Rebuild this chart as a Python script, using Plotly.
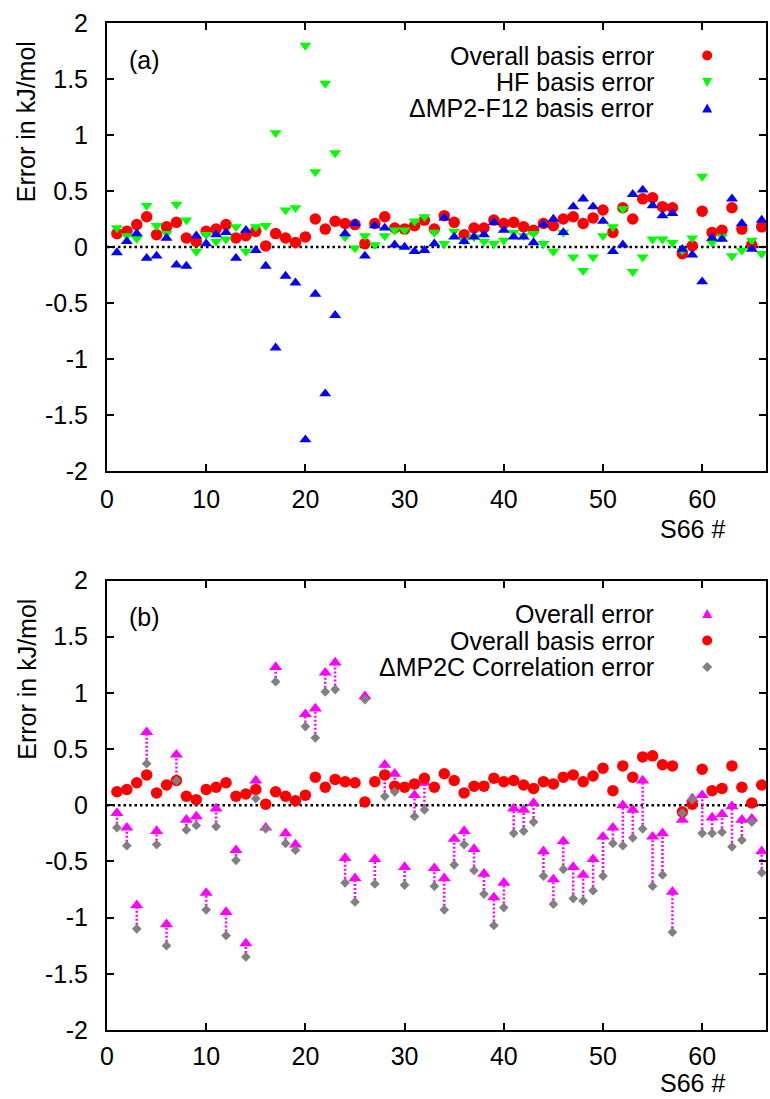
import plotly.graph_objects as go

# ---------------- data ----------------
s66 = list(range(1, 67))

basis_err = [0.12, 0.14, 0.20, 0.27, 0.11, 0.18, 0.22, 0.08, 0.05, 0.14,
             0.16, 0.20, 0.08, 0.10, 0.14, 0.01, 0.12, 0.08, 0.04, 0.09,
             0.25, 0.16, 0.23, 0.21, 0.20, 0.03, 0.21, 0.27, 0.17, 0.16,
             0.19, 0.24, 0.16, 0.28, 0.22, 0.11, 0.17, 0.17, 0.24, 0.21,
             0.22, 0.18, 0.15, 0.21, 0.19, 0.25, 0.27, 0.21, 0.26, 0.33,
             0.13, 0.35, 0.25, 0.43, 0.44, 0.36, 0.35, -0.06, 0.01, 0.32,
             0.13, 0.15, 0.35, 0.16, 0.02, 0.18]

hf_err = [0.17, 0.10, 0.075, 0.37, 0.19, 0.12, 0.38, 0.24, -0.04, 0.11,
          0.05, 0.07, 0.18, -0.04, 0.18, 0.19, 1.02, 0.33, 0.35, 1.80,
          0.67, 1.46, 0.84, 0.09, -0.01, 0.10, 0.02, 0.10, 0.15, 0.15,
          0.23, 0.27, 0.13, 0.03, 0.14, 0.06, 0.09, 0.05, 0.03, 0.06,
          0.13, 0.10, 0.12, 0.03, -0.04, 0.13, -0.09, -0.21, -0.09, 0.10,
          0.18, 0.34, -0.22, -0.09, 0.07, 0.07, 0.04, -0.03, 0.08, 0.63,
          0.04, 0.09, -0.08, -0.03, 0.06, -0.06]

mp2f12_err = [-0.05, 0.05, 0.12, -0.10, -0.08, 0.08, -0.16, -0.17, 0.10, 0.03,
              0.11, 0.13, -0.10, 0.15, -0.03, -0.17, -0.90, -0.26, -0.32, -1.72,
              -0.42, -1.31, -0.61, 0.12, 0.21, -0.08, 0.19, 0.17, 0.02, 0.00,
              -0.04, -0.03, 0.03, 0.26, 0.09, 0.05, 0.09, 0.11, 0.22, 0.15,
              0.09, 0.09, 0.04, 0.20, 0.25, 0.13, 0.36, 0.43, 0.36, 0.23,
              -0.04, 0.02, 0.47, 0.51, 0.37, 0.28, 0.30, -0.02, -0.07, -0.31,
              0.08, 0.07, 0.43, 0.21, -0.02, 0.24]

overall_err = [-0.07, -0.20, -0.89, 0.65, -0.23, -1.06, 0.45, -0.13, -0.10, -0.78,
               -0.03, -0.95, -0.40, -1.23, 0.22, -0.20, 1.23, -0.25, -0.35, 0.81,
               0.86, 1.18, 1.27, -0.47, -0.65, 0.97, -0.48, 0.36, 0.28, -0.55,
               0.09, 0.20, -0.56, -0.65, -0.30, -0.23, -0.39, -0.61, -0.82, -0.69,
               -0.03, -0.04, 0.02, -0.41, -0.66, -0.32, -0.55, -0.62, -0.48, -0.28,
               -0.20, 0.00, -0.04, 0.22, -0.28, -0.25, -0.77, -0.13, 0.06, 0.09,
               -0.11, -0.08, -0.01, -0.13, -0.12, -0.41]

mp2c_corr_err = [-0.20, -0.36, -1.10, 0.37, -0.35, -1.25, 0.22, -0.22, -0.18, -0.93,
                 -0.19, -1.16, -0.49, -1.35, 0.06, -0.21, 1.10, -0.34, -0.40, 0.70,
                 0.60, 1.01, 1.03, -0.69, -0.86, 0.94, -0.70, 0.08, 0.12, -0.71,
                 -0.10, -0.04, -0.72, -0.93, -0.53, -0.35, -0.58, -0.79, -1.07, -0.91,
                 -0.25, -0.23, -0.15, -0.63, -0.88, -0.57, -0.83, -0.85, -0.76, -0.63,
                 -0.34, -0.36, -0.29, -0.21, -0.72, -0.62, -1.13, -0.07, 0.05, -0.25,
                 -0.25, -0.24, -0.37, -0.31, -0.15, -0.60]

x_tick_vals = [0, 10, 20, 30, 40, 50, 60]
x_tick_labels = ["0", "10", "20", "30", "40", "50", "60"]
y_tick_vals = [-2, -1.5, -1, -0.5, 0, 0.5, 1, 1.5, 2]
y_tick_labels = ["-2", "-1.5", "-1", "-0.5", "0", "0.5", "1", "1.5", "2"]

legend_a = ["Overall basis error", "HF basis error", "\u0394MP2-F12 basis error"]
legend_b = ["Overall error", "Overall basis error", "\u0394MP2C Correlation error"]

# ---------------- styling / layout ----------------
W, H = 770, 1099
ML, MR, MT, MB = 107, 2, 23, 69
PW, PH = W - ML - MR, H - MT - MB
FONT = "Liberation Sans, Arial, Helvetica, sans-serif"
FS = 25

RED, GREEN, BLUE = "#ff0000", "#00ff00", "#0000ff"
MAGENTA, GREY = "#ff00ff", "#808080"


def px(xp):
    return (xp - ML) / PW


def py(yp):
    return (H - MB - yp) / PH


top_a, bot_a = 23, 471
top_b, bot_b = 580.5, 1030

fig = go.Figure()

# panel (a)
fig.add_trace(go.Scatter(x=s66, y=basis_err, mode="markers", xaxis="x", yaxis="y",
                         marker=dict(symbol="circle", size=11.5, color=RED, line=dict(width=0)),
                         name=legend_a[0], showlegend=False))
fig.add_trace(go.Scatter(x=s66, y=hf_err, mode="markers", xaxis="x", yaxis="y",
                         marker=dict(symbol="triangle-down", size=10.5, color=GREEN, line=dict(width=0)),
                         name=legend_a[1], showlegend=False))
fig.add_trace(go.Scatter(x=s66, y=mp2f12_err, mode="markers", xaxis="x", yaxis="y",
                         marker=dict(symbol="triangle-up", size=10.5, color=BLUE, line=dict(width=0)),
                         name=legend_a[2], showlegend=False))

# panel (b): dotted arrows from correlation error to overall error
ax, ay = [], []
for xi, c, o in zip(s66, mp2c_corr_err, overall_err):
    ax += [xi, xi, None]
    ay += [c, o, None]
fig.add_trace(go.Scatter(x=ax, y=ay, mode="lines", xaxis="x2", yaxis="y2",
                         line=dict(color=MAGENTA, width=2.5, dash="2px,2px"),
                         showlegend=False, hoverinfo="skip"))
fig.add_trace(go.Scatter(x=s66, y=overall_err, mode="markers", xaxis="x2", yaxis="y2",
                         marker=dict(symbol="triangle-up", size=11.5, color=MAGENTA, line=dict(width=0)),
                         name=legend_b[0], showlegend=False))
fig.add_trace(go.Scatter(x=s66, y=basis_err, mode="markers", xaxis="x2", yaxis="y2",
                         marker=dict(symbol="circle", size=11.5, color=RED, line=dict(width=0)),
                         name=legend_b[1], showlegend=False))
fig.add_trace(go.Scatter(x=s66, y=mp2c_corr_err, mode="markers", xaxis="x2", yaxis="y2",
                         marker=dict(symbol="diamond", size=7.5, color=GREY, line=dict(width=0)),
                         name=legend_b[2], showlegend=False))

axis_common = dict(showline=True, linecolor="black", linewidth=2, mirror="ticks",
                   ticks="inside", ticklen=7, tickwidth=1.5, tickcolor="black",
                   showgrid=False, zeroline=False,
                   tickfont=dict(family=FONT, size=FS, color="black"))

xr = [0, PW / 9.95]
fig.update_layout(
    width=W, height=H,
    margin=dict(l=ML, r=MR, t=MT, b=MB, pad=0),
    paper_bgcolor="white", plot_bgcolor="white",
    showlegend=False,
    xaxis=dict(domain=[0, 1], anchor="y", range=xr, tickvals=x_tick_vals,
               ticktext=x_tick_labels, ticklabelstandoff=5, **axis_common),
    yaxis=dict(domain=[py(bot_a), py(top_a)], anchor="x", range=[-2, 2],
               tickvals=y_tick_vals, ticktext=y_tick_labels, ticklabelstandoff=12,
               **axis_common),
    xaxis2=dict(domain=[0, 1], anchor="y2", range=xr, tickvals=x_tick_vals,
                ticktext=x_tick_labels, ticklabelstandoff=3, **axis_common),
    yaxis2=dict(domain=[py(bot_b), py(top_b)], anchor="x2", range=[-2, 2],
                tickvals=y_tick_vals, ticktext=y_tick_labels, ticklabelstandoff=12,
                **axis_common),
)

# dotted zero lines
for xref, yref in (("x domain", "y"), ("x2 domain", "y2")):
    fig.add_shape(type="line", xref=xref, yref=yref, x0=0, x1=1, y0=0, y1=0,
                  line=dict(color="black", width=2.5, dash="2.5px,3px"), layer="below")

annots = []
tfont = dict(family=FONT, size=FS, color="black")
for top, lab in ((top_a, "(a)"), (top_b, "(b)")):
    annots.append(dict(x=px(127), y=py(top + 37), xref="paper", yref="paper",
                       text=lab, showarrow=False, xanchor="left", yanchor="middle", font=tfont))
    annots.append(dict(x=px(26), y=py(top + 99), xref="paper", yref="paper",
                       text="Error in kJ/mol", textangle=-90, showarrow=False,
                       xanchor="center", yanchor="middle", font=tfont))
# x-axis titles
annots.append(dict(x=px(694), y=py(bot_a + 58), xref="paper", yref="paper",
                   text="S66 #", showarrow=False, xanchor="center", yanchor="middle",
                   font=tfont))
annots.append(dict(x=px(694), y=py(1098.5), xref="paper", yref="paper",
                   text="S66 #", showarrow=False, xanchor="center", yanchor="bottom",
                   font=tfont))

# hand-drawn key (text left of symbol, as in the reference)
key_rows_a = [55.5, 82, 108.5]
key_rows_b = [614, 640.5, 667]
for rows, labels in ((key_rows_a, legend_a), (key_rows_b, legend_b)):
    for yy, lab in zip(rows, labels):
        annots.append(dict(x=px(658), y=py(yy), xref="paper", yref="paper", text=lab,
                           showarrow=False, xanchor="right", yanchor="middle", font=tfont))
fig.update_layout(annotations=annots)

KX = px(709)
tri_up = "M-5,-4 L5,-4 L0,5 Z"
tri_dn = "M-5,4 L5,4 L0,-5 Z"
diam = "M0,5 L5,0 L0,-5 L-5,0 Z"


def key_path(path, yy, color):
    fig.add_shape(type="path", xref="paper", yref="paper", xsizemode="pixel",
                  ysizemode="pixel", xanchor=KX, yanchor=py(yy), path=path,
                  fillcolor=color, line=dict(width=0))


def key_circle(yy, color):
    fig.add_shape(type="circle", xref="paper", yref="paper", xsizemode="pixel",
                  ysizemode="pixel", xanchor=KX, yanchor=py(yy), x0=-5, x1=5, y0=-5, y1=5,
                  fillcolor=color, line=dict(width=0))


key_circle(key_rows_a[0], RED)
key_path(tri_dn, key_rows_a[1], GREEN)
key_path(tri_up, key_rows_a[2], BLUE)
key_path(tri_up, key_rows_b[0], MAGENTA)
key_circle(key_rows_b[1], RED)
key_path(diam, key_rows_b[2], GREY)

fig.write_html("out.html")
